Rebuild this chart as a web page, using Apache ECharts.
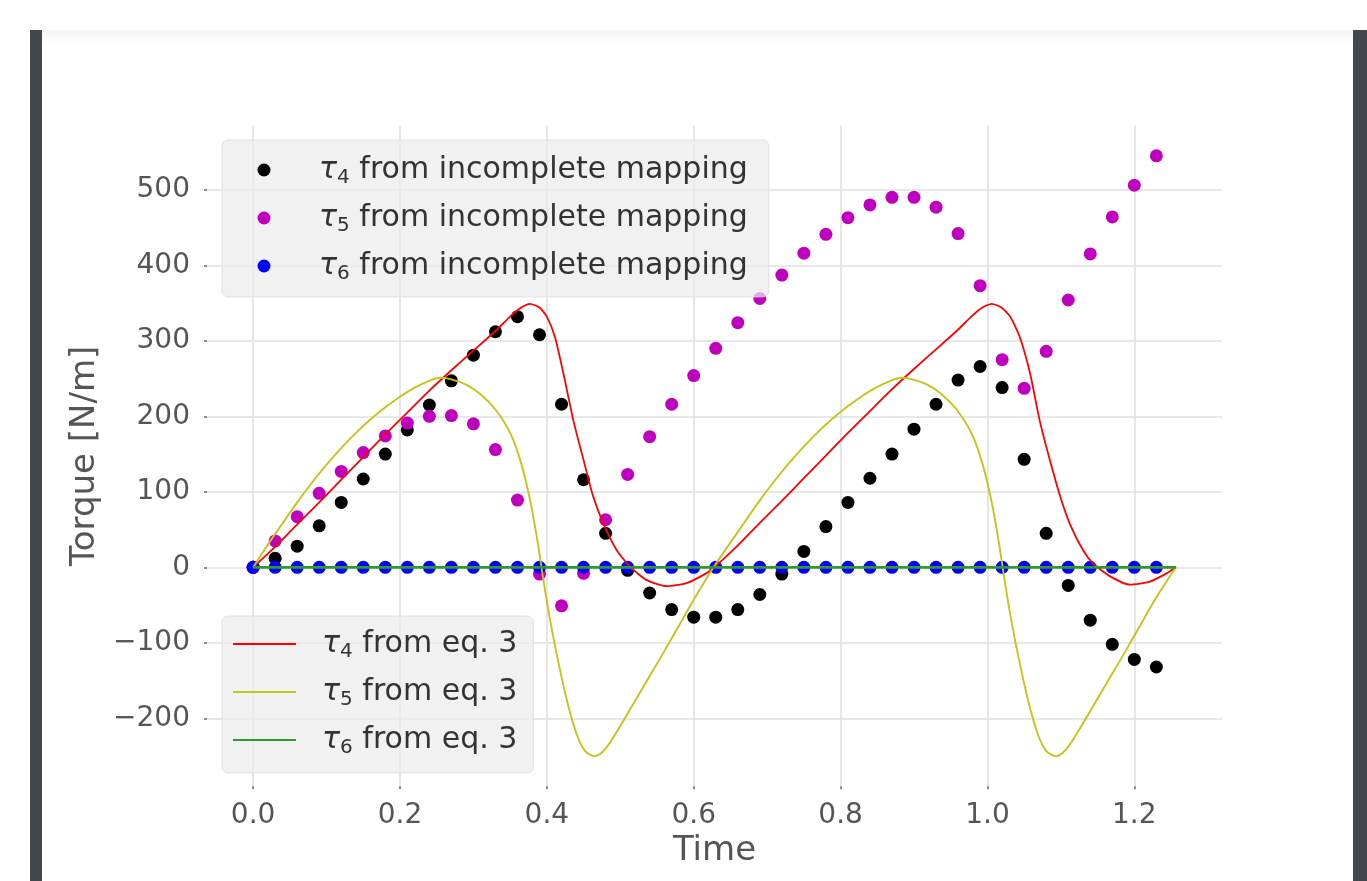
<!DOCTYPE html>
<html><head><meta charset="utf-8">
<script src="https://cdn.jsdelivr.net/npm/echarts@6/dist/echarts.min.js"></script>
<style>html,body{margin:0;padding:0;background:#fff;}#c{width:1367px;height:881px;}</style>
</head><body><div id="c"></div>
<script>
// ---- tick labels ----
const xTicks = [0, 0.2, 0.4, 0.6, 0.8, 1.0, 1.2];
const yTicks = [-200, -100, 0, 100, 200, 300, 400, 500];

// ---- sampled points (incomplete mapping) ----
const tPts = [0, 0.03, 0.06, 0.09, 0.12, 0.15, 0.18, 0.21, 0.24, 0.27, 0.30, 0.33, 0.36, 0.39,
  0.42, 0.45, 0.48, 0.51, 0.54, 0.57, 0.60, 0.63, 0.66, 0.69, 0.72, 0.75, 0.78, 0.81, 0.84,
  0.87, 0.90, 0.93, 0.96, 0.99, 1.02, 1.05, 1.08, 1.11, 1.14, 1.17, 1.20, 1.23];
const tau4Map = [0, 12, 28, 55, 86, 117, 150, 182, 215, 247, 281, 312, 332, 308, 216, 116, 45, -4,
  -34, -56, -66, -66, -56, -36, -9, 21, 54, 86, 118, 150, 183, 216, 248, 266, 238, 143, 45, -24,
  -70, -102, -122, -132];
const tau5Map = [0, 35, 67, 98, 127, 152, 174, 191, 200, 201, 190, 156, 89, -9, -51, -8, 63, 123,
  173, 216, 254, 290, 324, 356, 387, 416, 441, 463, 480, 490, 490, 477, 442, 373, 275, 237, 286,
  354, 415, 464, 506, 545];
const tau6Map = [0, 0, 0, 0, 0, 0, 0, 0, 0, 0, 0, 0, 0, 0, 0, 0, 0, 0, 0, 0, 0, 0, 0, 0, 0, 0, 0,
  0, 0, 0, 0, 0, 0, 0, 0, 0, 0, 0, 0, 0, 0, 0];

// ---- eq. 3 curves ----
const tRed = [0, 0.03, 0.06, 0.09, 0.12, 0.15, 0.18, 0.21, 0.24, 0.27, 0.30, 0.33, 0.35, 0.365,
  0.377, 0.39, 0.40, 0.411, 0.4225, 0.436, 0.45, 0.463, 0.477, 0.495, 0.513, 0.536, 0.563, 0.59,
  0.617, 0.628, 0.658, 0.688, 0.718, 0.748, 0.778, 0.808, 0.838, 0.868, 0.898, 0.928, 0.958,
  0.978, 0.993, 1.006, 1.019, 1.031, 1.044, 1.058, 1.071, 1.085, 1.099, 1.112, 1.130, 1.144,
  1.167, 1.194, 1.221, 1.244, 1.2566];
const vRed = [0, 27, 57, 86, 116, 146, 176, 205, 234, 261, 287, 313, 332, 344,
  349, 344, 332, 305, 257, 195, 142, 94, 58, 23, 1, -17, -25, -21,
  -8, 0, 27, 57, 86, 116, 146, 176, 205, 234, 261, 287, 313,
  332, 344, 349, 344, 332, 305, 257, 195, 142, 94, 58, 23, 5,
  -12, -23, -19, -8, 0];
const tYel = [0, 0.02, 0.04, 0.06, 0.08, 0.10, 0.12, 0.14, 0.16, 0.18, 0.20, 0.22, 0.24, 0.255,
  0.27, 0.29, 0.31, 0.33, 0.35, 0.365, 0.378, 0.388, 0.395, 0.403, 0.413, 0.427, 0.441, 0.452,
  0.465, 0.480, 0.500, 0.520, 0.540, 0.560, 0.580, 0.600, 0.627,
  0.648, 0.668, 0.688, 0.708, 0.728, 0.748, 0.768, 0.788, 0.808, 0.828, 0.848, 0.868, 0.883,
  0.898, 0.918, 0.938, 0.958, 0.978, 0.993, 1.006, 1.016, 1.023, 1.031, 1.041, 1.055, 1.069,
  1.080, 1.093, 1.108, 1.128, 1.148, 1.168, 1.188, 1.208, 1.228, 1.2566];
const vYel = [0, 30, 58, 86, 112, 136, 158, 178, 196, 212, 226, 238, 247, 251,
  249, 242, 229, 209, 178, 138, 85, 30, -15, -62, -113, -175, -222, -243,
  -250, -240, -210, -177, -144, -111, -77, -43, 0,
  30, 58, 86, 112, 136, 158, 178, 196, 212, 226, 238, 247, 251,
  249, 242, 229, 209, 178, 138, 85, 30, -15, -62, -113, -175, -222,
  -243, -250, -240, -210, -177, -144, -111, -77, -43, 0];
const tGrn = [0, 1.2566];
const vGrn = [0, 0];

const mapNames = ['τ4 from incomplete mapping', 'τ5 from incomplete mapping', 'τ6 from incomplete mapping'];
const eqNames = ['τ4 from eq. 3', 'τ5 from eq. 3', 'τ6 from eq. 3'];

const FONT = 'DejaVu Sans';
const zip = (a, b) => a.map((x, i) => [x, b[i]]);

function makeRich(lead) {
  return {
    g: { fontFamily: FONT, fontSize: 30, fontStyle: 'italic', color: '#333', lineHeight: 36,
         verticalAlign: 'middle', padding: [0, 0, 0, lead] },
    s: { fontFamily: FONT, fontSize: 20, color: '#333', lineHeight: 16, verticalAlign: 'bottom' },
    r: { fontFamily: FONT, fontSize: 30, color: '#333', lineHeight: 36, verticalAlign: 'middle' }
  };
}
const legendFmt = name => '{g|τ}{s|' + name.charAt(1) + '}{r|' + name.slice(2) + '}';
const legendBase = {
  orient: 'vertical', left: 222, itemGap: 12,
  formatter: legendFmt, backgroundColor: 'rgba(236,236,236,0.72)',
  borderColor: 'rgba(215,215,215,0.7)', borderWidth: 1, borderRadius: 6,
  selectedMode: false
};

const chart = echarts.init(document.getElementById('c'), null, { renderer: 'canvas' });
chart.setOption({
  animation: false,
  backgroundColor: '#ffffff',
  graphic: [
    { type: 'rect', silent: true, z: -10, shape: { x: 42, y: 30, width: 1311, height: 16 },
      style: { fill: { type: 'linear', x: 0, y: 0, x2: 0, y2: 1,
        colorStops: [{ offset: 0, color: '#f4f4f4' }, { offset: 1, color: '#ffffff' }] } } },
    { type: 'rect', silent: true, shape: { x: 30, y: 30, width: 12, height: 851 }, style: { fill: '#44484c' } },
    { type: 'rect', silent: true, shape: { x: 1353, y: 30, width: 14, height: 851 }, style: { fill: '#44484c' } }
  ],
  grid: { left: 207, right: 145, top: 125.6, bottom: 94.7, containLabel: false, outerBoundsMode: 'none' },
  xAxis: {
    type: 'value', min: -0.0628, max: 1.3194,
    axisLine: { show: false, onZero: false },
    axisTick: { show: true, length: 3, customValues: xTicks, lineStyle: { color: '#666', width: 1.5 } },
    axisLabel: { customValues: xTicks, formatter: v => v.toFixed(1), color: '#555', fontSize: 28,
      fontFamily: FONT, margin: 15 },
    splitLine: { show: true, lineStyle: { color: '#e0e0e0', width: 1.6 } },
    name: 'Time', nameLocation: 'middle', nameGap: 46,
    nameTextStyle: { fontSize: 34, color: '#555', fontFamily: FONT }
  },
  yAxis: {
    type: 'value', min: -290, max: 585,
    axisLine: { show: false, onZero: false },
    axisTick: { show: true, length: 3, customValues: yTicks, lineStyle: { color: '#666', width: 1.5 } },
    axisLabel: { customValues: yTicks, formatter: v => (v < 0 ? '\u2212' + Math.abs(v) : String(v)),
      color: '#555', fontSize: 28, fontFamily: FONT, margin: 17 },
    splitLine: { show: true, lineStyle: { color: '#e0e0e0', width: 1.6 } },
    name: 'Torque [N/m]', nameLocation: 'middle', nameGap: 96,
    nameTextStyle: { fontSize: 34, color: '#555', fontFamily: FONT }
  },
  legend: [
    Object.assign({}, legendBase, {
      data: mapNames, top: 140, padding: [12, 21, 13, 35.5],
      icon: 'circle', itemWidth: 63, itemHeight: 13, symbolKeepAspect: true,
      textStyle: { rich: makeRich(18.5), lineHeight: 36 }
    }),
    Object.assign({}, legendBase, {
      data: eqNames, top: 616, padding: [10, 16, 15, 11],
      icon: 'rect', itemWidth: 63, itemHeight: 2, symbolKeepAspect: false,
      textStyle: { rich: makeRich(21), lineHeight: 36 }
    })
  ],
  series: [
    { name: eqNames[0], type: 'line', data: zip(tRed, vRed), symbol: 'none', smooth: 0.2,
      lineStyle: { color: '#ff0000', width: 1.8 }, itemStyle: { color: '#ff0000' } },
    { name: eqNames[1], type: 'line', data: zip(tYel, vYel), symbol: 'none', smooth: 0.3,
      lineStyle: { color: '#c4c41a', width: 1.9 }, itemStyle: { color: '#c4c41a' } },
    { name: eqNames[2], type: 'line', data: zip(tGrn, vGrn), symbol: 'none',
      lineStyle: { color: '#2e9a2e', width: 2.6 }, itemStyle: { color: '#2e9a2e' } },
    { name: mapNames[0], type: 'scatter', data: zip(tPts, tau4Map), symbol: 'circle', symbolSize: 13,
      itemStyle: { color: '#000000', opacity: 1 } },
    { name: mapNames[1], type: 'scatter', data: zip(tPts, tau5Map), symbol: 'circle', symbolSize: 13,
      itemStyle: { color: '#bf00bf', opacity: 1 } },
    { name: mapNames[2], type: 'scatter', data: zip(tPts, tau6Map), symbol: 'circle', symbolSize: 13,
      itemStyle: { color: '#0000ff', opacity: 1 } }
  ]
});
</script></body></html>
